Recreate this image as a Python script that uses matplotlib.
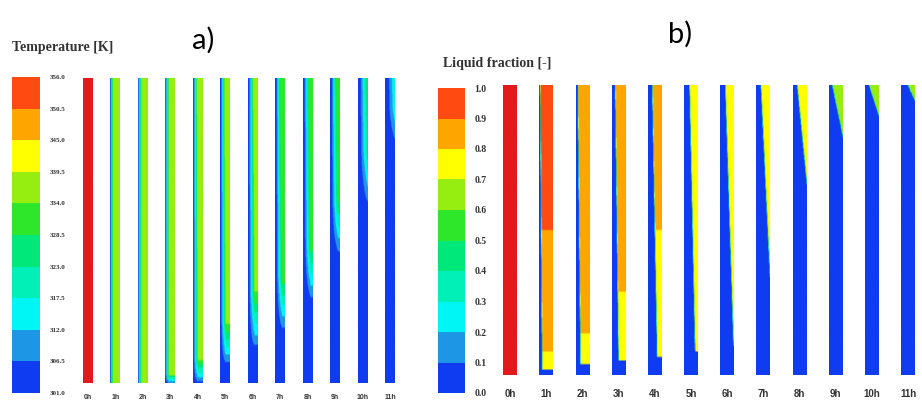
import numpy as np
import matplotlib
matplotlib.use("Agg")
import matplotlib.pyplot as plt
from matplotlib.colors import ListedColormap, BoundaryNorm
from matplotlib.cm import ScalarMappable

W, H = 922, 401

hours = ["0h", "1h", "2h", "3h", "4h", "5h", "6h", "7h", "8h", "9h", "10h", "11h"]

# Fluent-style banded rainbow, bottom band first
band_colors = ["#0f3cf0", "#1e96e6", "#00f5f5", "#00f0b8", "#00e87a",
               "#2ee62a", "#96ee10", "#ffff00", "#ffa500", "#ff4a12"]
over_red = "#e3191c"

# (a) temperature contours, one entry per hour
temp_ticks = [301.0, 306.5, 312.0, 317.5, 323.0, 328.5, 334.0, 339.5, 345.0, 350.5, 356.0]
temp_wall = [356.0, 306, 305, 305, 304, 303, 303, 302, 302, 302, 302, 302]
temp_bulk = [356.0, 337, 337, 337, 336, 335, 334, 332, 331, 329, 326, 320]
temp_layer_top = [0.0, 0.3, 0.35, 0.4, 0.4, 0.45, 0.5, 0.5, 0.55, 0.6, 0.8, 1.0]
temp_layer_bot = [0.0, 0.3, 0.35, 0.4, 0.5, 0.6, 0.7, 0.8, 0.9, 1.0, 1.5, 2.0]
temp_cold_height = [0.0, 0.0, 0.0, 0.0, 0.0, 0.05, 0.1, 0.15, 0.25, 0.4, 0.55, 0.75]
temp_fade = [0.0, 0.0, 0.0, 0.03, 0.08, 0.15, 0.2, 0.2, 0.2, 0.2, 0.2, 0.15]

# (b) liquid fraction contours, one entry per hour
lf_ticks = [0.0, 0.1, 0.2, 0.3, 0.4, 0.5, 0.6, 0.7, 0.8, 0.9, 1.0]
lf_front_top = [-1.0, 0.05, 0.1, 0.2, 0.27, 0.37, 0.35, 0.32, 0.27, 0.2, 0.25, 0.45]
lf_front_bot = [-1.0, 0.2, 0.3, 0.45, 0.65, 0.8, 1.0, 1.3, 2.3, 4.5, 7.0, 10.0]
lf_solid_height = [0.0, 0.02, 0.04, 0.05, 0.06, 0.08, 0.1, 0.1, 0.1, 0.1, 0.1, 0.1]
lf_liq_top = [1.0, 0.97, 0.87, 0.85, 0.83, 0.8, 0.75, 0.74, 0.72, 0.68, 0.62, 0.6]
lf_liq_mid = [1.0, 0.9, 0.85, 0.83, 0.8, 0.77, 0.74, 0.72, 0.7, 0.68, 0.62, 0.6]
lf_liq_bot = [1.0, 0.78, 0.78, 0.76, 0.72, 0.72, 0.72, 0.7, 0.68, 0.68, 0.62, 0.6]

NX, NY = 24, 160
xg = (np.arange(NX) + 0.5) / NX
yg = (np.arange(NY) + 0.5) / NY
X, Y = np.meshgrid(xg, yg)


def temp_field(i):
    if temp_layer_top[i] <= 0:
        return np.full_like(X, temp_bulk[i])
    layer = temp_layer_bot[i] + (temp_layer_top[i] - temp_layer_bot[i]) * Y
    ramp = np.clip(X / layer, 0, 1) ** 1.6
    if temp_fade[i] > 0:
        ramp = ramp * np.clip((Y - temp_cold_height[i]) / temp_fade[i], 0, 1)
    return temp_wall[i] + (temp_bulk[i] - temp_wall[i]) * ramp


def lf_field(i, mush=0.07):
    front = lf_front_bot[i] + (lf_front_top[i] - lf_front_bot[i]) * Y
    liq = np.interp(Y, [0, 0.5, 1], [lf_liq_bot[i], lf_liq_mid[i], lf_liq_top[i]])
    f = liq * np.clip((X - front) / mush, 0, 1)
    f[Y < lf_solid_height[i]] = 0.0
    return f


cmap = ListedColormap(band_colors)
cmap.set_over(over_red)
cmap.set_under(band_colors[0])

fig = plt.figure(figsize=(W / 100, H / 100), dpi=100)


def px_axes(l, t, r, b):
    return fig.add_axes([l / W, 1 - b / H, (r - l) / W, (b - t) / H])


def draw_panel(ax, fields, norm, half_w, xlim, pad, fs):
    for i, fld in enumerate(fields):
        ax.imshow(fld, origin="lower", extent=[i - half_w, i + half_w, 0, 1],
                  cmap=cmap, norm=norm, aspect="auto", interpolation="bilinear")
    ax.set_xlim(*xlim)
    ax.set_ylim(0, 1)
    ax.set_xticks(range(len(hours)))
    ax.set_xticklabels(hours, fontsize=fs, fontweight="bold", family="Liberation Sans",
                       color="#333333")
    ax.tick_params(axis="x", length=0, pad=pad)
    ax.set_yticks([])
    for s in ax.spines.values():
        s.set_visible(False)


def draw_cbar(cax, ticks, norm, fs):
    cb = fig.colorbar(ScalarMappable(norm=norm, cmap=cmap), cax=cax, ticks=ticks)
    cb.outline.set_visible(False)
    cb.ax.tick_params(length=0, pad=7, labelsize=fs)
    cb.ax.set_yticklabels([f"{t:.1f}" for t in ticks], fontweight="bold",
                          family="Liberation Serif", color="#333333")


# ── panel a: temperature ──
norm_t = BoundaryNorm(temp_ticks, cmap.N)
ax_a = px_axes(74, 78, 404, 383)
draw_panel(ax_a, [temp_field(i) for i in range(len(hours))], norm_t,
           0.18, (-0.5, 11.5), 8, 5)
draw_cbar(px_axes(12, 77, 40, 393), temp_ticks, norm_t, 5)

# ── panel b: liquid fraction ──
norm_l = BoundaryNorm(lf_ticks, cmap.N)
ax_b = px_axes(490, 85, 920, 375)
draw_panel(ax_b, [lf_field(i) for i in range(len(hours))], norm_l,
           0.19, (-0.553, 11.33), 10, 7)
draw_cbar(px_axes(438, 88, 465, 393), lf_ticks, norm_l, 7)

fig.text(12 / W, 1 - 48 / H, "Temperature [K]", ha="left", va="center",
         family="Liberation Serif", fontweight="bold", fontsize=10, color="#333333")
fig.text(443 / W, 1 - 64 / H, "Liquid fraction [-]", ha="left", va="center",
         family="Liberation Serif", fontweight="bold", fontsize=10, color="#333333")
fig.text(203 / W, 1 - 40 / H, "a)", ha="center", va="center", family="Lato",
         fontsize=21, color="black")
fig.text(680 / W, 1 - 34 / H, "b)", ha="center", va="center", family="Lato",
         fontsize=21, color="black")

fig.savefig("out.png", dpi=100, facecolor="white")
